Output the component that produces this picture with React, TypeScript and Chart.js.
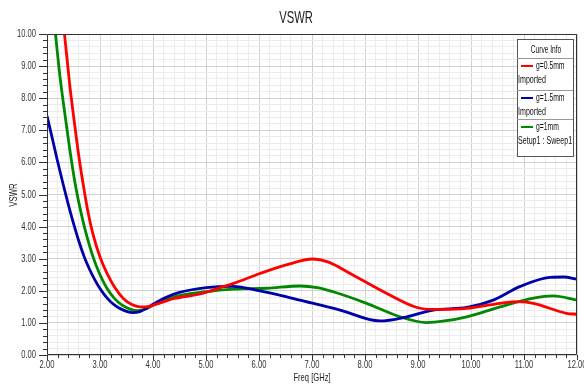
import React, { useEffect, useRef } from "react";
import { Chart, registerables } from "chart.js";

Chart.register(...registerables);

// ---- Data ----
const redFreq = [2.25, 2.33, 2.43, 2.52, 2.6, 2.69, 2.78, 2.87, 3.0, 3.13, 3.28, 3.44, 3.6, 3.75, 3.9, 4.1, 4.4, 4.89, 5.27, 5.52, 6.02, 6.5, 7.02, 7.3, 7.72, 8.35, 8.98, 9.29, 9.92, 10.55, 10.92, 11.18, 11.8, 12.0];
const redVswr = [11.2, 10.0, 8.4, 7.2, 6.2, 5.24, 4.4, 3.75, 3.05, 2.55, 2.1, 1.76, 1.57, 1.5, 1.51, 1.6, 1.76, 1.9, 2.1, 2.23, 2.54, 2.8, 2.99, 2.9, 2.54, 1.97, 1.48, 1.42, 1.45, 1.61, 1.66, 1.61, 1.3, 1.27];

const blueFreq = [2.0, 2.1, 2.19, 2.3, 2.4, 2.5, 2.6, 2.7, 2.8, 2.9, 3.0, 3.1, 3.2, 3.35, 3.5, 3.62, 3.75, 3.9, 4.0, 4.25, 4.5, 5.01, 5.5, 6.02, 6.4, 6.77, 7.53, 8.28, 8.79, 9.29, 9.92, 10.42, 10.92, 11.49, 11.75, 12.0];
const blueVswr = [7.45, 6.75, 6.1, 5.35, 4.7, 4.1, 3.55, 3.07, 2.68, 2.35, 2.07, 1.84, 1.66, 1.47, 1.36, 1.32, 1.35, 1.48, 1.58, 1.8, 1.95, 2.1, 2.14, 2.0, 1.86, 1.71, 1.4, 1.06, 1.19, 1.4, 1.48, 1.71, 2.13, 2.42, 2.43, 2.36];

const greenFreq = [2.1, 2.16, 2.25, 2.33, 2.43, 2.53, 2.62, 2.72, 2.87, 3.0, 3.13, 3.28, 3.44, 3.58, 3.7, 3.85, 4.0, 4.38, 5.0, 5.52, 6.15, 6.77, 7.1, 7.4, 8.03, 8.66, 9.16, 9.5, 9.92, 10.55, 11.18, 11.55, 12.0];
const greenVswr = [11.0, 10.0, 8.6, 7.6, 6.4, 5.35, 4.6, 3.9, 3.05, 2.5, 2.08, 1.75, 1.53, 1.42, 1.38, 1.43, 1.55, 1.8, 1.97, 2.05, 2.08, 2.15, 2.1, 1.97, 1.61, 1.19, 1.01, 1.06, 1.19, 1.5, 1.77, 1.84, 1.71];

const seriesNames = ["g=0.5mm", "g=1.5mm", "g=1mm"];
const seriesSources = ["Imported", "Imported", "Setup1 : Sweep1"];
const seriesColors = ["#ff0000", "#0000a8", "#008800"];

const chartTitle = "VSWR";
const yTitle = "VSWR";
const xTitle = "Freq [GHz]";
const legendTitle = "Curve Info";

const xMin = 2, xMax = 12, yMin = 0, yMax = 10, minorStep = 0.2;

const FONT = "'Liberation Sans', Arial, sans-serif";
const SX = 0.69; // horizontal condensing of the reference's narrow font

const isMajor = (v: number) => Math.abs(v - Math.round(v)) < 1e-6;

const toPoints = (xs: number[], ys: number[]) => xs.map((x, i) => ({ x, y: ys[i] }));

function drawText(ctx: CanvasRenderingContext2D, text: string, x: number, y: number, align: CanvasTextAlign, size: number, sx = SX, rot = 0) {
  ctx.save();
  ctx.translate(x, y);
  if (rot) ctx.rotate(rot);
  ctx.scale(sx, 1);
  ctx.font = `${size}px ${FONT}`;
  ctx.textAlign = align;
  ctx.textBaseline = "middle";
  ctx.fillText(text, 0, 0);
  ctx.restore();
}

const decorPlugin = {
  id: "decor",
  afterDraw(chart: any) {
    const { ctx, chartArea: a, scales } = chart;
    const xs = scales.x, ys = scales.y;
    ctx.save();
    // frame
    ctx.strokeStyle = "#333";
    ctx.lineWidth = 1;
    ctx.beginPath();
    ctx.rect(a.left + 0.5, a.top + 0.5, a.right - a.left - 1, a.bottom - a.top - 1);
    ctx.stroke();
    // tick marks
    ctx.beginPath();
    ys.ticks.forEach((t: any) => {
      const y = Math.round(ys.getPixelForValue(t.value)) + 0.5;
      const len = isMajor(t.value) ? 8 : 4;
      ctx.moveTo(a.left - len, y);
      ctx.lineTo(a.left, y);
    });
    xs.ticks.forEach((t: any) => {
      const x = Math.round(xs.getPixelForValue(t.value)) + 0.5;
      const len = isMajor(t.value) ? 5 : 3;
      ctx.moveTo(x, a.bottom);
      ctx.lineTo(x, a.bottom + len);
    });
    ctx.stroke();

    // tick labels
    ctx.fillStyle = "#333";
    ys.ticks.forEach((t: any) => {
      if (!isMajor(t.value)) return;
      drawText(ctx, Number(t.value).toFixed(2), 36, ys.getPixelForValue(t.value), "right", 11);
    });
    xs.ticks.forEach((t: any) => {
      if (!isMajor(t.value)) return;
      drawText(ctx, Number(t.value).toFixed(2), xs.getPixelForValue(t.value), 365, "center", 11);
    });

    // titles
    ctx.fillStyle = "#222";
    drawText(ctx, chartTitle, 296, 18, "center", 17, 0.66);
    drawText(ctx, xTitle, (a.left + a.right) / 2, 378, "center", 11);
    drawText(ctx, yTitle, 14, 195, "center", 10, 0.78, -Math.PI / 2);

    // legend
    const lx = 517, lr = 573, ltop = 39;
    const seps = [58, 90, 119, 156];
    ctx.fillStyle = "#fff";
    ctx.fillRect(lx, ltop, lr - lx, seps[3] - ltop);
    ctx.strokeStyle = "#555";
    ctx.lineWidth = 1;
    ctx.strokeRect(lx + 0.5, ltop + 0.5, lr - lx, seps[3] - ltop);
    ctx.strokeStyle = "#999";
    ctx.beginPath();
    for (let i = 0; i < 3; i++) {
      ctx.moveTo(lx, seps[i] + 0.5);
      ctx.lineTo(lr, seps[i] + 0.5);
    }
    ctx.stroke();
    ctx.fillStyle = "#111";
    drawText(ctx, legendTitle, (lx + lr) / 2 + 1, 50, "center", 10, 0.66);
    for (let i = 0; i < 3; i++) {
      const ly = seps[i] + 8;
      ctx.strokeStyle = seriesColors[i];
      ctx.lineWidth = 2;
      ctx.beginPath();
      ctx.moveTo(521, ly);
      ctx.lineTo(533, ly);
      ctx.stroke();
      ctx.fillStyle = "#111";
      drawText(ctx, seriesNames[i], 536, ly, "left", 10, 0.68);
      drawText(ctx, seriesSources[i], 518, ly + 14, "left", 10, 0.71);
    }
    ctx.restore();
  },
};

export default function App() {
  const ref = useRef<HTMLCanvasElement | null>(null);
  useEffect(() => {
    if (!ref.current) return;
    const mk = (i: number, xs: number[], ys: number[]) => ({
      label: seriesNames[i],
      data: toPoints(xs, ys),
      borderColor: seriesColors[i],
      backgroundColor: seriesColors[i],
      borderWidth: 2.8,
      pointRadius: 0,
      cubicInterpolationMode: "monotone" as const,
      fill: false,
    });
    const gridColor = (c: any) => (c.tick && isMajor(c.tick.value) ? "#d2d2d2" : "#ececec");
    const buildTicks = (lo: number, hi: number) => (s: any) => {
      const t = [];
      for (let v = lo; v <= hi + 1e-9; v += minorStep) t.push({ value: Math.round(v * 10) / 10 });
      s.ticks = t;
    };
    const chart = new Chart(ref.current, {
      type: "line",
      data: {
        datasets: [
          mk(0, redFreq, redVswr),
          mk(1, blueFreq, blueVswr),
          mk(2, greenFreq, greenVswr),
        ],
      },
      options: {
        animation: false,
        responsive: false,
        devicePixelRatio: 1,
        layout: { padding: { top: 34, right: 7, left: 0, bottom: 0 } },
        plugins: { legend: { display: false }, title: { display: false }, tooltip: { enabled: false } },
        scales: {
          x: {
            type: "linear",
            min: xMin,
            max: xMax,
            afterFit: (s: any) => { s.height = 32; },
            afterBuildTicks: buildTicks(xMin, xMax),
            ticks: { display: false, autoSkip: false },
            grid: { drawTicks: false, color: gridColor },
            border: { display: false },
          },
          y: {
            type: "linear",
            min: yMin,
            max: yMax,
            afterFit: (s: any) => { s.width = 47; },
            afterBuildTicks: buildTicks(yMin, yMax),
            ticks: { display: false, autoSkip: false },
            grid: { drawTicks: false, color: gridColor },
            border: { display: false },
          },
        },
      },
      plugins: [decorPlugin],
    });
    return () => chart.destroy();
  }, []);
  return (
    <div style={{ position: "fixed", left: 0, top: 0, width: 584, height: 387, background: "#fff" }}>
      <canvas ref={ref} width={584} height={387} style={{ display: "block" }} />
    </div>
  );
}
